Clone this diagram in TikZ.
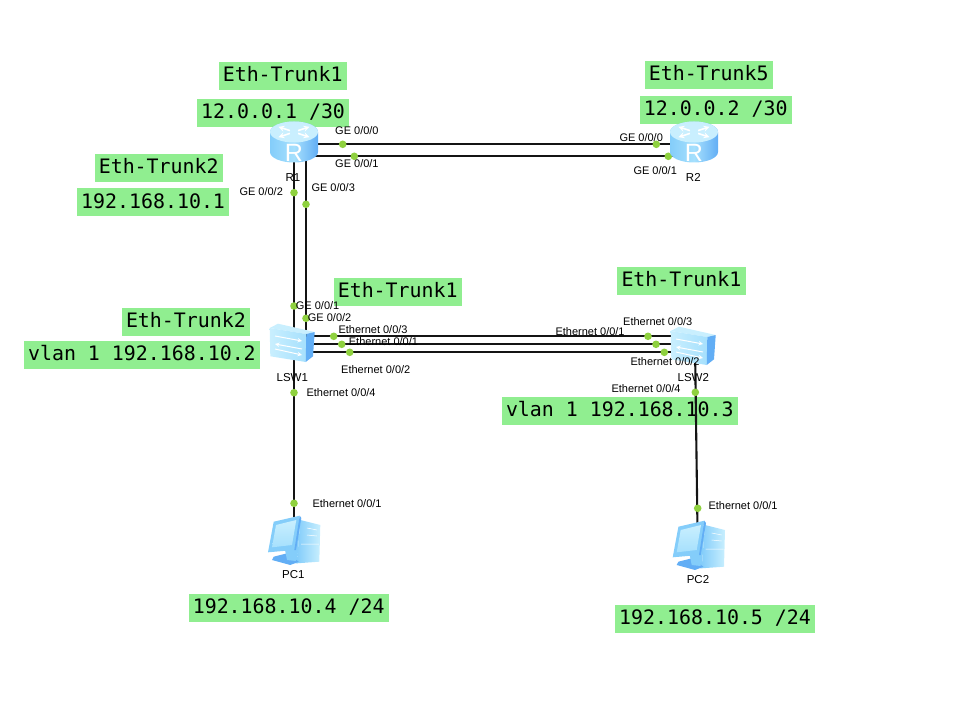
\documentclass[tikz,border=0pt]{standalone}
\usepackage{fontspec}
\setmainfont{Liberation Sans}
\newfontfamily\monofont{DejaVu Sans Mono}
\definecolor{netgreen}{HTML}{90EE90}
\definecolor{portgreen}{HTML}{8FD13F}
\definecolor{icontop}{HTML}{C9EFFE}
\definecolor{iconlight}{HTML}{A6E0FD}
\definecolor{iconmid}{HTML}{84CDFA}
\definecolor{icondark}{HTML}{62AEF5}
\tikzset{
	tag/.style={fill=netgreen, anchor=north west, inner xsep=4.3pt, inner ysep=4.5pt, text height=15pt, text depth=4pt, font=\monofont\fontsize{19.9}{20}\selectfont},
	lbl/.style={anchor=west, inner sep=0pt, font=\fontsize{11}{13}\selectfont},
	devname/.style={inner sep=0pt, font=\fontsize{11.5}{13}\selectfont},
	link/.style={line width=2.1pt, black!92},
	port/.style={circle, inner sep=0pt, minimum size=7.6pt},
	device/.style={inner sep=0pt, minimum size=30pt},
	routericon/.pic={
		\path[left color=iconmid, right color=icondark, middle color=iconlight]
			(-24,-11) -- (-24,9) arc (180:0:24 and 10.5) -- (24,-11) arc (0:-180:24 and 10.5) -- cycle;
		\fill[icontop] (0,-11) ellipse (24 and 10.5);
		\begin{scope}[shift={(0,-11)}]
			\foreach \ang in {35,145,215,325}
				\draw[white, line width=1.6pt, ->, >=stealth] (\ang:5 and 2.5) -- (\ang:19 and 9);
		\end{scope}
		\node[white, inner sep=0pt, font=\fontsize{25}{25}\selectfont] at (0,10) {R};
	},
	switchicon/.pic={
		\fill[icontop] (-23.3,-14) -- (-15,-18.3) -- (21.7,-10) -- (13.3,-8) -- cycle;
		\path[left color=icontop, right color=iconlight] (-23.3,-14) -- (13.3,-8) -- (12.7,20) -- (-22.7,14.3) -- cycle;
		\fill[icondark] (13.3,-8) -- (21.7,-10) -- (20,14.3) -- (12.7,20) -- cycle;
		\draw[white, line width=1pt, ->, >=stealth] (-18,-6) -- (9,-1);
		\draw[white, line width=1pt, ->, >=stealth] (9,7) -- (-18,2);
		\draw[white, line width=1pt, ->, >=stealth] (-18,7) -- (9,13);
	},
	pcicon/.pic={
		\fill[iconmid] (7.3,-20) -- (1,-17) -- (-3,23) -- (4,23.3) -- cycle;
		\path[left color=iconmid, right color=icontop] (7.3,-20) -- (27.3,-15) -- (26.3,21.7) -- (4,23.3) -- cycle;
		\draw[white, line width=.5pt] (14,-12) -- (24,-10) (14,-5) -- (24,-4) (8,4) -- (26,4);
		\fill[icondark] (-19.3,16.7) -- (-6,13.3) -- (5.7,21.7) -- (-2.7,25) -- (-21,20) -- cycle;
		\fill[iconmid] (-8,10) -- (2,9) -- (3,21) -- (-6,20) -- cycle;
		\fill[iconmid] (-19.3,-18.3) -- (6.7,-24.3) -- (1.3,10) -- (-25,12.3) -- cycle;
		\fill[icondark] (6.7,-24.3) -- (8.3,-22) -- (3,10) -- (1.3,10) -- cycle;
		\path[top color=icontop, bottom color=iconlight] (-17,-15) -- (3.3,-20) -- (-1,5) -- (-21,7.3) -- cycle;
	},
}
\begin{document}
\begin{tikzpicture}[x=1pt, y=-1pt]
	\useasboundingbox (0,0) rectangle (973,703);

	% Подписи на зелёном фоне
	\node[tag] (tagA) at (218.3,62.3) {Eth-Trunk1};
	\node[tag] (tagB) at (196.7,99.3) {12.0.0.1 /30};
	\node[tag] (tagC) at (94.3,154.3) {Eth-Trunk2};
	\node[tag] (tagD) at (76.7,188.3) {192.168.10.1};
	\node[tag] (tagE) at (644.3,61) {Eth-Trunk5};
	\node[tag] (tagF) at (639.3,96.3) {12.0.0.2 /30};
	\node[tag] (tagG) at (333.3,277.7) {Eth-Trunk1};
	\node[tag] (tagH) at (121.5,307.7) {Eth-Trunk2};
	\node[tag] (tagI) at (23.6,340.3) {vlan 1 192.168.10.2};
	\node[tag] (tagJ) at (617,267) {Eth-Trunk1};
	\node[tag] (tagK) at (501.5,397) {vlan 1 192.168.10.3};
	\node[tag] (tagL) at (188.3,594) {192.168.10.4 /24};
	\node[tag] (tagM) at (614.7,604.3) {192.168.10.5 /24};

	% Устройства
	\node[device] (R1) at (294,143) {};
	\node[device] (R2) at (694,143) {};
	\node[device] (LSW1) at (294,342) {};
	\node[device] (LSW2) at (695,345) {};
	\node[device] (PC1) at (294,540) {};
	\node[device] (PC2) at (697.7,545) {};

	% Порты
	\node[port] (r1g0) at (342.7,144.3) {};
	\node[port] (r1g1) at (354.3,156.3) {};
	\node[port] (r1g2) at (294,192.7) {};
	\node[port] (r1g3) at (306,204.3) {};
	\node[port] (r2g0) at (656.3,144.3) {};
	\node[port] (r2g1) at (668.3,156.3) {};
	\node[port] (sw1g1) at (294,306) {};
	\node[port] (sw1g2) at (306,318.3) {};
	\node[port] (sw1e3) at (333.7,336.3) {};
	\node[port] (sw1e1) at (341.7,344.3) {};
	\node[port] (sw1e2) at (349.7,352.3) {};
	\node[port] (sw1e4) at (294,392.7) {};
	\node[port] (sw2e3) at (648,336.3) {};
	\node[port] (sw2e1) at (656,344.3) {};
	\node[port] (sw2e2) at (664.3,352.3) {};
	\node[port] (sw2e4) at (695.3,392.3) {};
	\node[port] (pc1e1) at (294,503.3) {};
	\node[port] (pc2e1) at (697.7,508.3) {};

	% Линии связи
	\draw[link] (r1g0 -| R1) -- (r2g0 -| R2);
	\draw[link] (r1g1 -| R1) -- (r2g1 -| R2);
	\draw[link] (r1g2 |- R1) -- (sw1g1 |- LSW1);
	\draw[link] (r1g3 |- R1) -- (sw1g2 |- LSW1);
	\draw[link] (sw1e3 -| LSW1) -- (sw2e3 -| LSW2);
	\draw[link] (sw1e1 -| LSW1) -- (sw2e1 -| LSW2);
	\draw[link] (sw1e2 -| LSW1) -- (sw2e2 -| LSW2);
	\draw[link] (LSW1) -- (PC1);
	\draw[link] (LSW2) -- (PC2);

	% Порты поверх линий
	\foreach \p in {r1g0,r1g1,r1g2,r1g3,r2g0,r2g1,sw1g1,sw1g2,sw1e3,sw1e1,sw1e2,sw1e4,sw2e3,sw2e1,sw2e2,sw2e4,pc1e1,pc2e1}
		\fill[portgreen] (\p) circle (3.8);

	% Значки устройств
	\pic at (R1) {routericon};
	\pic at (R2) {routericon};
	\pic at ([xshift=-1pt]LSW1.center) {switchicon};
	\pic at ([xshift=-1pt]LSW2.center) {switchicon};
	\pic at ([xshift=-1pt]PC1.center) {pcicon};
	\pic at (PC2) {pcicon};

	% Имена устройств
	\node[devname] (nameR1) at (293,177.7) {R1};
	\node[devname] (nameR2) at (693.3,177.7) {R2};
	\node[devname] (nameLSW1) at (292.3,377.7) {LSW1};
	\node[devname] (nameLSW2) at (693.3,377.3) {LSW2};
	\node[devname] (namePC1) at (293.3,574.3) {PC1};
	\node[devname] (namePC2) at (698,579.3) {PC2};

	% Подписи портов
	\node[lbl] (txtA) at (335,131) {GE 0/0/0};
	\node[lbl] (txtB) at (335,164) {GE 0/0/1};
	\node[lbl] (txtC) at (239.3,191.3) {GE 0/0/2};
	\node[lbl] (txtD) at (311.3,187.3) {GE 0/0/3};
	\node[lbl] (txtE) at (619.3,137.7) {GE 0/0/0};
	\node[lbl] (txtF) at (633.3,171) {GE 0/0/1};
	\node[lbl] (txtG) at (295.7,306) {GE 0/0/1};
	\node[lbl] (txtH) at (307.7,318) {GE 0/0/2};
	\node[lbl] (txtI) at (338.3,330) {Ethernet 0/0/3};
	\node[lbl] (txtJ) at (348.7,341.7) {Ethernet 0/0/1};
	\node[lbl] (txtK) at (341,369.3) {Ethernet 0/0/2};
	\node[lbl] (txtL) at (306.3,393) {Ethernet 0/0/4};
	\node[lbl] (txtM) at (623,322) {Ethernet 0/0/3};
	\node[lbl] (txtN) at (555.3,332) {Ethernet 0/0/1};
	\node[lbl] (txtO) at (630.3,361.7) {Ethernet 0/0/2};
	\node[lbl] (txtP) at (611.3,389) {Ethernet 0/0/4};
	\node[lbl] (txtQ) at (312.3,503.7) {Ethernet 0/0/1};
	\node[lbl] (txtR) at (708.3,506) {Ethernet 0/0/1};
\end{tikzpicture}
\end{document}
